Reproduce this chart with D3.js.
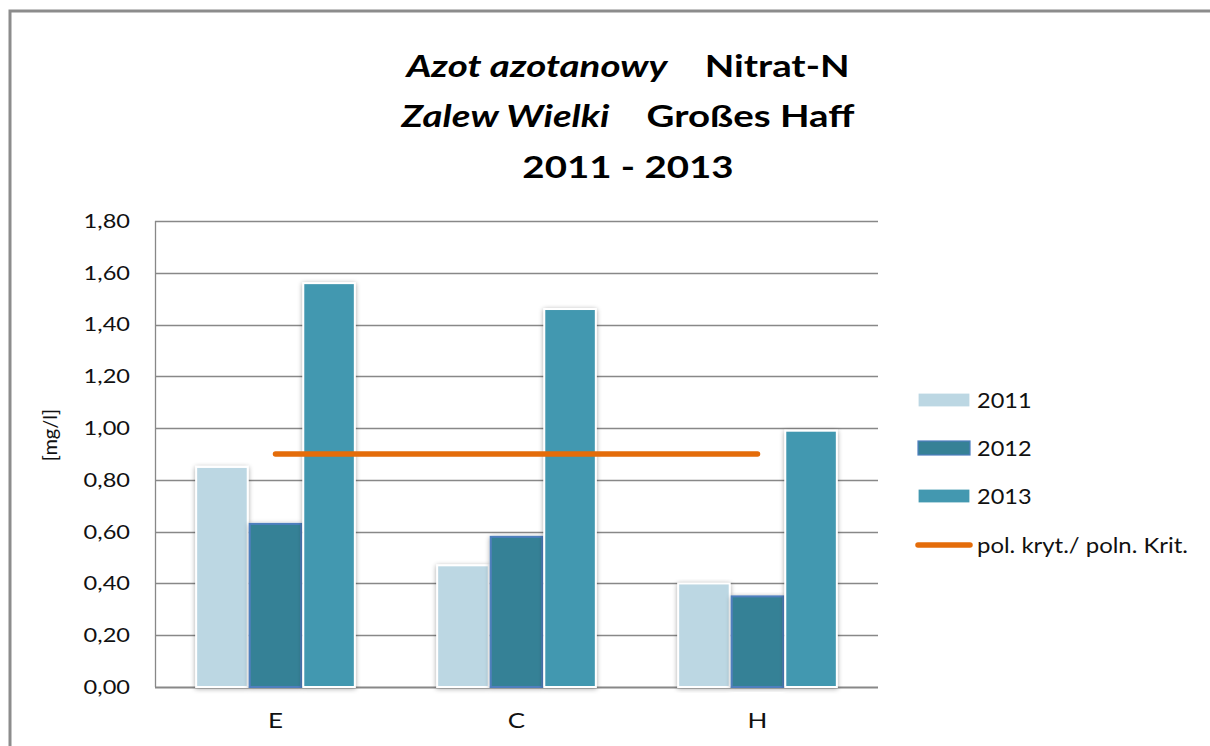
<!DOCTYPE html>
<html>
<head>
<meta charset="utf-8">
<script src="https://cdn.jsdelivr.net/npm/d3@7"></script>
<style>
  html, body { margin: 0; padding: 0; background: #fff; }
  svg { display: block; }
  text { font-family: Lato, "Open Sans", "DejaVu Sans", sans-serif; }
</style>
</head>
<body>
<svg id="chart" width="1210" height="746"></svg>
<script>
// ---- data ----
const categories = ["E", "C", "H"];
const seriesNames = ["2011", "2012", "2013"];
const values2011 = [0.85, 0.47, 0.40];
const values2012 = [0.63, 0.58, 0.35];
const values2013 = [1.56, 1.46, 0.99];
const criterionValue = 0.90;
const criterionLabel = "pol. kryt./ poln. Krit.";
const yTicks = [0, 0.2, 0.4, 0.6, 0.8, 1.0, 1.2, 1.4, 1.6, 1.8];
const yAxisTitle = "[mg/l]";
const titleLine1 = ["Azot azotanowy", "Nitrat-N"];
const titleLine2 = ["Zalew Wielki", "Großes Haff"];
const titleLine3 = "2011 - 2013";

const seriesValues = [values2011, values2012, values2013];
const seriesColors = ["#BCD7E3", "#368196", "#4398B0"];
const seriesStrokes = ["#ffffff", "#4F7FBE", "#ffffff"];

// ---- layout ----
const svg = d3.select("#chart");
const pLeft = 155, pRight = 878, pTop = 221, pBottom = 687;
const stretch = 1.18;

const defs = svg.append("defs");
const f = defs.append("filter").attr("id", "shadow").attr("x", "-20%").attr("y", "-5%").attr("width", "140%").attr("height", "110%");
f.append("feGaussianBlur").attr("in", "SourceAlpha").attr("stdDeviation", 2.5).attr("result", "b");
f.append("feOffset").attr("in", "b").attr("dx", 0).attr("dy", 1).attr("result", "o");
f.append("feComponentTransfer").attr("in", "o").attr("result", "c")
  .append("feFuncA").attr("type", "linear").attr("slope", 0.35);
const m = f.append("feMerge");
m.append("feMergeNode").attr("in", "c");
m.append("feMergeNode").attr("in", "SourceGraphic");

// outer border
svg.append("path")
  .attr("d", "M10,760 L10,11 L1215,11")
  .attr("fill", "none").attr("stroke", "#8c8c8c").attr("stroke-width", 3);

const x = d3.scaleBand().domain(categories).range([pLeft, pRight]).paddingInner(1/3).paddingOuter(1/6);
const xs = d3.scaleBand().domain(seriesNames).range([0, x.bandwidth()]);
const y = d3.scaleLinear().domain([0, 1.8]).range([pBottom, pTop]);
const fmt = v => d3.format(".2f")(v).replace(".", ",");

// gridlines
svg.append("g").selectAll("line").data(yTicks).join("line")
  .attr("x1", pLeft).attr("x2", pRight)
  .attr("y1", d => Math.round(y(d)) + 0.5).attr("y2", d => Math.round(y(d)) + 0.5)
  .attr("stroke", "#888").attr("stroke-width", d => d === 0 ? 2 : 1.3);

// left axis line
svg.append("line").attr("x1", pLeft + 0.5).attr("x2", pLeft + 0.5).attr("y1", pTop).attr("y2", pBottom)
  .attr("stroke", "#888").attr("stroke-width", 1.3);

// y tick labels
const yAxis = d3.axisLeft(y).tickValues(yTicks).tickFormat(fmt).tickSize(0).tickPadding(25);
const ya = svg.append("g").attr("transform", `translate(${pLeft},0)`).call(yAxis);
ya.select(".domain").remove();
ya.selectAll("text").attr("font-family", "Lato, sans-serif").attr("font-size", 20).attr("fill", "#111")
  .attr("x", 0).attr("transform", `translate(-25,0) scale(${stretch},1)`);

// y title
svg.append("text").attr("transform", "translate(57,435) rotate(-90)")
  .attr("text-anchor", "middle").attr("font-size", 20).attr("fill", "#111").text(yAxisTitle);

// x labels
const xAxis = d3.axisBottom(x).tickSize(0).tickPadding(25);
const xa = svg.append("g").attr("transform", `translate(0,${pBottom})`).call(xAxis);
xa.select(".domain").remove();
xa.selectAll("text").attr("font-family", "Lato, sans-serif").attr("font-size", 22).attr("fill", "#111")
  .attr("transform", `scale(${stretch},1)`);

// bars
const barData = [];
categories.forEach((c, i) => seriesNames.forEach((s, j) => barData.push({c, s, j, v: seriesValues[j][i]})));
svg.append("g").selectAll("rect").data(barData).join("rect")
  .attr("x", d => x(d.c) + xs(d.s) + 1)
  .attr("width", xs.bandwidth() - 2)
  .attr("y", d => y(d.v))
  .attr("height", d => y(0) - y(d.v))
  .attr("fill", d => seriesColors[d.j])
  .attr("stroke", d => seriesStrokes[d.j])
  .attr("stroke-width", 2)
  .attr("filter", "url(#shadow)");

// criterion line
svg.append("line")
  .attr("x1", x(categories[0]) + x.bandwidth() / 2)
  .attr("x2", x(categories[categories.length - 1]) + x.bandwidth() / 2)
  .attr("y1", y(criterionValue)).attr("y2", y(criterionValue))
  .attr("stroke", "#E46C0A").attr("stroke-width", 5.5).attr("stroke-linecap", "round");

// legend
const lg = svg.append("g");
seriesNames.forEach((s, j) => {
  const cy = 400 + j * 48;
  lg.append("rect").attr("x", 918).attr("y", cy - 7).attr("width", 52).attr("height", 14)
    .attr("fill", seriesColors[j]).attr("stroke", seriesStrokes[j]).attr("stroke-width", 1.2);
  lg.append("text").attr("transform", `translate(977,${cy + 8}) scale(1.12,1)`)
    .attr("font-size", 21).attr("fill", "#111").text(s);
});
lg.append("line").attr("x1", 918).attr("x2", 970).attr("y1", 545).attr("y2", 545)
  .attr("stroke", "#E46C0A").attr("stroke-width", 5.5).attr("stroke-linecap", "round");
lg.append("text").attr("transform", "translate(977,553) scale(1.14,1)")
  .attr("font-size", 21).attr("fill", "#111").text(criterionLabel);

// title
const tg = svg.append("g").attr("font-weight", "bold").attr("font-size", 31).attr("fill", "#000");
function titleRow(parts, yy, sx) {
  const t = tg.append("text").attr("transform", `translate(628,${yy}) scale(${sx},1)`).attr("text-anchor", "middle");
  t.append("tspan").attr("font-style", "italic").text(parts[0]);
  t.append("tspan").attr("dx", 30).text(parts[1]);
}
titleRow(titleLine1, 77, 1.24);
titleRow(titleLine2, 127, 1.24);
tg.append("text").attr("transform", "translate(628,178) scale(1.24,1)").attr("text-anchor", "middle").text(titleLine3);
</script>
</body>
</html>
